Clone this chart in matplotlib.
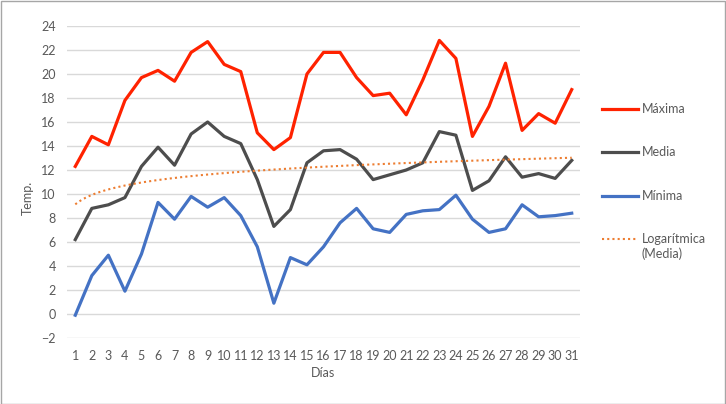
import numpy as np
import matplotlib
matplotlib.use("Agg")
import matplotlib.pyplot as plt
from matplotlib.lines import Line2D
from matplotlib.patches import Rectangle

plt.rcParams['font.family'] = ['Lato', 'DejaVu Sans']

dias = list(range(1, 32))
maxima = [12.3, 14.8, 14.1, 17.8, 19.7, 20.3, 19.4, 21.8, 22.7, 20.8, 20.2, 15.1, 13.7, 14.7, 20.0,
          21.8, 21.8, 19.7, 18.2, 18.4, 16.6, 19.5, 22.8, 21.3, 14.8, 17.3, 20.9, 15.3, 16.7, 15.9, 18.7]
media = [6.2, 8.8, 9.1, 9.7, 12.3, 13.9, 12.4, 15.0, 16.0, 14.8, 14.2, 11.2, 7.3, 8.7, 12.6,
         13.6, 13.7, 12.9, 11.2, 11.6, 12.0, 12.6, 15.2, 14.9, 10.3, 11.1, 13.1, 11.4, 11.7, 11.3, 12.8]
minima = [-0.1, 3.2, 4.9, 1.9, 5.0, 9.3, 7.9, 9.8, 8.9, 9.7, 8.2, 5.6, 0.9, 4.7, 4.1,
          5.6, 7.6, 8.8, 7.1, 6.8, 8.3, 8.6, 8.7, 9.9, 7.9, 6.8, 7.1, 9.1, 8.1, 8.2, 8.4]
yticks = list(range(-2, 25, 2))

W, H = 726, 404
fig = plt.figure(figsize=(W / 100, H / 100), dpi=100)
ax = fig.add_axes([67 / W, 1 - 338 / H, (580 - 67) / W, (338 - 26) / H])

x = np.array(dias)
c_max = '#FF2200'
c_med = '#4D4D4D'
c_min = '#4472C4'
c_log = '#ED7D31'

# logarithmic trendline of Media
b, a = np.polyfit(np.log(x), np.array(media), 1)
xt = np.linspace(1, 31, 300)
ax.plot(xt, a + b * np.log(xt), color=c_log, lw=1.5, ls=(0, (1, 1.5)), zorder=4)

ax.plot(x, maxima, color=c_max, lw=2.3, solid_joinstyle='round', zorder=3)
ax.plot(x, media, color=c_med, lw=2.3, solid_joinstyle='round', zorder=3)
ax.plot(x, minima, color=c_min, lw=2.3, solid_joinstyle='round', zorder=3)

ax.set_xlim(0.5, 31.5)
ax.set_ylim(-2, 24)
ax.set_yticks(yticks)
ax.set_xticks(dias)
ax.grid(axis='y', color='#D9D9D9', lw=1)
ax.set_axisbelow(True)
for s in ax.spines.values():
    s.set_visible(False)
ax.tick_params(axis='both', length=0, labelsize=9, colors='#595959')
ax.tick_params(axis='y', pad=8)
ax.tick_params(axis='x', pad=9)

fig.text(323 / W, 1 - 373 / H, 'Días', ha='center', va='center', fontsize=9, color='#595959')
fig.text(28 / W, 1 - 198 / H, 'Temp.', ha='center', va='center', rotation=90, fontsize=9, color='#595959')

# legend
entries = [(109, c_max, '-', 'Máxima'), (152, c_med, '-', 'Media'), (196, c_min, '-', 'Mínima')]
for yy, c, ls, lab in entries:
    fig.add_artist(Line2D([602 / W, 638 / W], [1 - yy / H, 1 - yy / H], color=c, lw=2.3,
                          transform=fig.transFigure))
    fig.text(642 / W, 1 - yy / H, lab, ha='left', va='center', fontsize=9, color='#595959')
fig.add_artist(Line2D([602 / W, 638 / W], [1 - 239 / H, 1 - 239 / H], color=c_log, lw=1.5,
                      ls=(0, (1, 1.5)), transform=fig.transFigure))
fig.text(642 / W, 1 - 239 / H, 'Logarítmica', ha='left', va='center', fontsize=9, color='#595959')
fig.text(642 / W, 1 - 254 / H, '(Media)', ha='left', va='center', fontsize=9, color='#595959')

fig.add_artist(Rectangle((0.5 / W, 0.5 / H), 1 - 1.5 / W, 1 - 1.5 / H, fill=False,
                         edgecolor='#A6A6A6', lw=1, transform=fig.transFigure))

fig.savefig('out.png', dpi=100)
